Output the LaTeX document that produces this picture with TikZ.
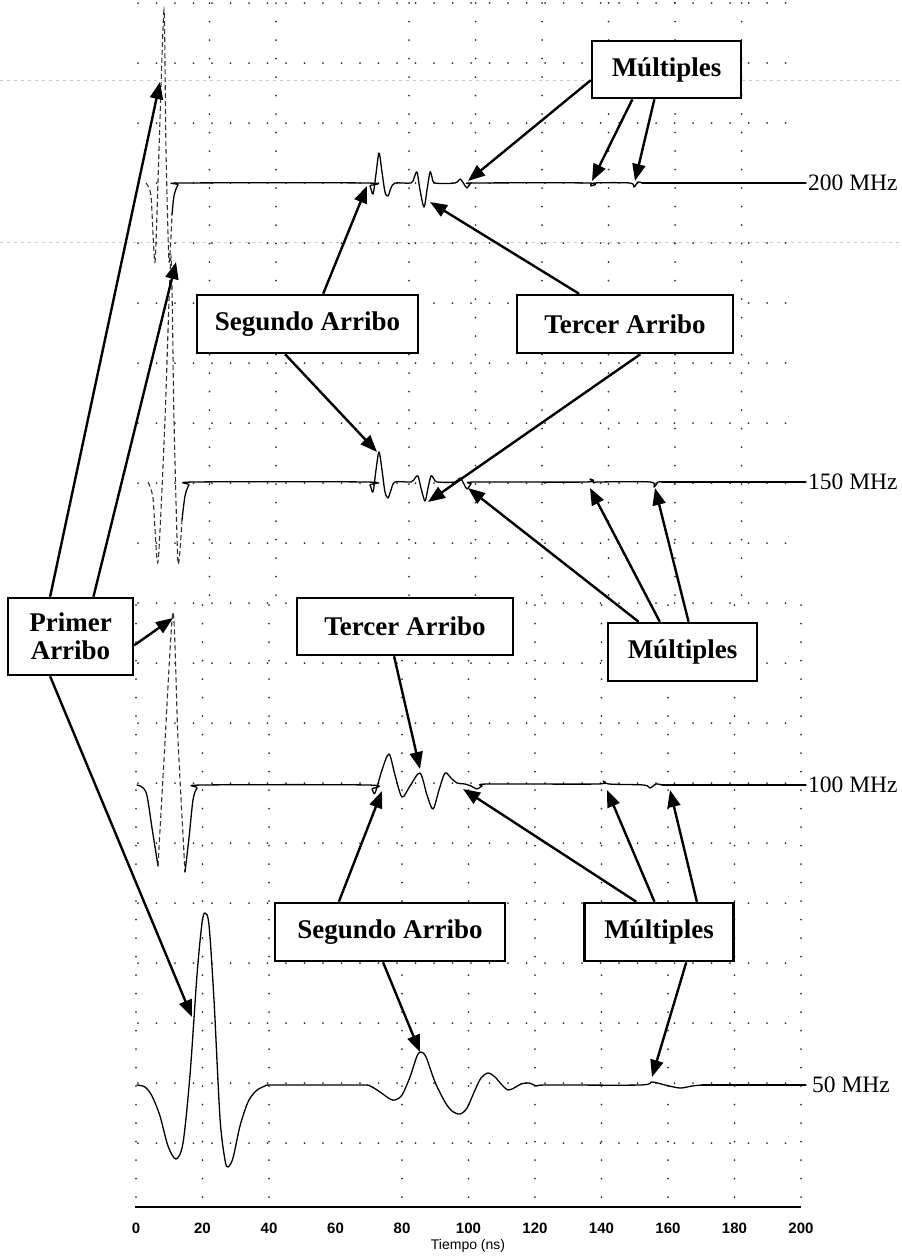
\documentclass[tikz,border=0pt]{standalone}
\usepackage{fontspec}
\setmainfont{Liberation Serif}
\setsansfont{Liberation Sans}
\usetikzlibrary{arrows.meta,calc}
\begin{document}
\begin{tikzpicture}[x=1pt,y=-1pt,
  box/.style={draw=black, line width=2.5pt, fill=white, inner sep=0pt,
    font=\fontsize{27}{30}\selectfont\bfseries, align=center},
  callout/.style={line width=2.4pt, -{Triangle[length=17pt,width=13pt]}},
  trace/.style={line width=1.3pt, line join=round, line cap=round},
  spike/.style={line width=1.1pt, black!80, dash pattern=on 5pt off 3pt},
  griddot/.style={line width=2pt, line cap=round, dash pattern=on 0pt off 18.5pt, black!80},
  noise/.style={line width=1pt, gray!40, dash pattern=on 3pt off 4pt},
  freq/.style={anchor=west, inner sep=1pt, font=\fontsize{23.5}{26}\selectfont},
  ticklab/.style={font=\sffamily\bfseries\fontsize{15}{17}\selectfont, inner sep=0pt},
  axlab/.style={font=\sffamily\fontsize{14}{16}\selectfont, inner sep=0pt}
]
\useasboundingbox (0,0) rectangle (902,1259);
\fill[white] (0,0) rectangle (902,1259);

% scan noise bands
\draw[noise] (0,80) -- (902,80);
\draw[noise] (0,242) -- (902,242);

% dotted grid: rows
\foreach \j in {0,...,19} {
  \draw[griddot] (138,{3+60*\j}) -- (802,{3+60*\j});
}
% dotted grid: columns, upper panels
\foreach \k in {1,2,4,5,6,7,8,9} {
  \draw[griddot] ({143+66.5*\k},3) -- ({143+66.5*\k},600);
}
% dotted grid: columns, lower panels
\foreach \k in {0,1,2,4,5,6,7,8,9,10} {
  \draw[griddot] ({136+66.5*\k},605) -- ({136+66.5*\k},1200);
}

% ---------------- 200 MHz ----------------
\draw[spike] plot[smooth, tension=0.4] coordinates {(146,183) (151,196) (155,262) (159,150) (164,10) (166,150) (169,262) (172,215)};
\draw[trace] plot[smooth, tension=0.5] coordinates {(172,215) (174,196) (178,185) (184,183) (366,183) (370,186) (373,194) (376,174) (379,153) (382,172) (385,192) (388,196) (391,188) (395,183) (411,183) (414,178) (417,172) (420,190) (424,207) (427,190) (430,172) (432,177) (435,183) (455,183) (460,179) (464,184) (467,188) (470,184) (474,183) (588,183) (591,186) (594,183) (630,183) (634,187) (638,182) (642,183)};
\draw[trace] (642,183) -- (806,183);
\node[freq] (f200) at (807,183) {200 MHz};

% ---------------- 150 MHz ----------------
\draw[spike] plot[smooth, tension=0.4] coordinates {(148,482) (153,498) (158,562) (165,420) (171,257) (174,420) (178,563) (182,520)};
\draw[trace] plot[smooth, tension=0.5] coordinates {(182,520) (185,496) (189,485) (195,482) (366,482) (370,485) (373,492) (376,470) (379,452) (382,470) (385,492) (388,498) (391,490) (395,482) (411,482) (415,478) (418,476) (421,488) (425,501) (428,488) (431,476) (434,479) (437,482) (455,482) (460,478) (464,484) (467,489) (471,484) (475,482) (586,482) (590,479) (594,483) (598,482) (650,482) (654,487) (658,482) (662,482)};
\draw[trace] (662,482) -- (806,482);
\node[freq] (f150) at (807,482) {150 MHz};

% ---------------- 100 MHz ----------------
\draw[trace] plot[smooth, tension=0.5] coordinates {(137,785) (146,792) (152,828) (158,866)};
\draw[spike] plot[smooth, tension=0.4] coordinates {(158,866) (164,760) (173,612) (178,740) (185,872)};
\draw[trace] plot[smooth, tension=0.5] coordinates {(185,872) (189,838) (193,800) (197,788) (203,785) (368,785) (372,789) (375,793) (382,770) (389,754) (395,775) (402,797) (410,786) (420,773) (427,795) (433,809) (439,790) (445,773) (451,778) (457,783) (465,784) (471,786) (477,789) (482,786) (488,784) (597,784) (603,781) (609,784) (644,785) (650,788) (656,784) (662,785)};
\draw[trace] (662,785) -- (806,785);
\node[freq] (f100) at (807,785) {100 MHz};

% ---------------- 50 MHz ----------------
\draw[trace] plot[smooth, tension=0.5] coordinates {(137,1085) (145,1087) (152,1096) (160,1116) (168,1146) (176,1159) (183,1143) (190,1075) (197,975) (202,923) (205,913) (209,925) (214,1000) (220,1118) (225,1160) (228,1167) (233,1158) (240,1126) (248,1102) (256,1091) (265,1086) (274,1085) (360,1085) (370,1086) (380,1092) (390,1099) (395,1100) (402,1095) (410,1077) (417,1056) (421,1052) (426,1057) (435,1082) (445,1102) (452,1111) (460,1114) (467,1108) (475,1090) (481,1078) (488,1073) (495,1077) (502,1085) (508,1090) (514,1088) (521,1084) (529,1083) (537,1086) (546,1085) (640,1085) (652,1082) (665,1085) (680,1088) (692,1086) (702,1085)};
\draw[trace] (702,1085) -- (806,1085);
\node[freq] (f50) at (811,1085) {50 MHz};

% ---------------- time axis ----------------
\coordinate (ax0) at (135,1207);
\coordinate (ax1) at (801,1207);
\draw[line width=2.8pt] (ax0) -- (ax1);
\foreach \t [count=\i from 0] in {0,20,40,60,80,100,120,140,160,180,200} {
  \node[ticklab] (tk\i) at ({136+66.5*\i},1228) {\t};
}
\node[axlab] (axlabel) at (468,1246) {Tiempo (ns)};

% ---------------- callout boxes ----------------
\node[box, minimum width=149pt, minimum height=57pt] (mult1) at (666.5,69.5) {Múltiples};
\node[box, minimum width=221pt, minimum height=58pt] (seg1) at (307.5,324) {Segundo Arribo};
\node[box, minimum width=216pt, minimum height=58pt] (ter1) at (625,324) {Tercer Arribo};
\node[box, minimum width=125pt, minimum height=77pt] (primer) at (70.5,636.5) {Primer\\[-2pt]Arribo};
\node[box, minimum width=216pt, minimum height=57pt] (ter2) at (405,626.5) {Tercer Arribo};
\node[box, minimum width=149pt, minimum height=58pt] (mult2) at (682.5,652) {Múltiples};
\node[box, minimum width=230pt, minimum height=58pt] (seg2) at (390,932) {Segundo Arribo};
\node[box, minimum width=149pt, minimum height=58pt] (mult3) at (659,932) {Múltiples};

% ---------------- arrow targets ----------------
\coordinate (pA200) at (160,82);
\coordinate (pA150) at (176,262);
\coordinate (pA100) at (173,618);
\coordinate (pA50) at (192,1017);
\coordinate (s200) at (367,186);
\coordinate (s150) at (377,452);
\coordinate (t200) at (430,202);
\coordinate (t150) at (428,502);
\coordinate (m200a) at (468,181);
\coordinate (m200b) at (592,181);
\coordinate (m200c) at (635,181);
\coordinate (m150a) at (468,488);
\coordinate (m150b) at (590,488);
\coordinate (m150c) at (655,488);
\coordinate (m100a) at (463,789);
\coordinate (m100b) at (607,790);
\coordinate (m100c) at (670,790);
\coordinate (m50) at (652,1077);
\coordinate (s100) at (382,791);
\coordinate (s50) at (420,1052);
\coordinate (t100) at (420,769);

% ---------------- arrows ----------------
\draw[callout] ($(primer.north west)!0.34!(primer.north east)$) -- (pA200);
\draw[callout] ($(primer.north west)!0.68!(primer.north east)$) -- (pA150);
\draw[callout] ($(primer.north east)!0.61!(primer.south east)$) -- (pA100);
\draw[callout] ($(primer.south west)!0.34!(primer.south east)$) -- (pA50);

\draw[callout] ($(seg1.north west)!0.57!(seg1.north east)$) -- (s200);
\draw[callout] ($(seg1.south west)!0.40!(seg1.south east)$) -- (s150);
\draw[callout] ($(ter1.north west)!0.29!(ter1.north east)$) -- (t200);
\draw[callout] ($(ter1.south west)!0.57!(ter1.south east)$) -- (t150);

\draw[callout] ($(mult1.north west)!0.68!(mult1.south west)$) -- (m200a);
\draw[callout] ($(mult1.south west)!0.275!(mult1.south east)$) -- (m200b);
\draw[callout] ($(mult1.south west)!0.42!(mult1.south east)$) -- (m200c);

\draw[callout] ($(mult2.north west)!0.21!(mult2.north east)$) -- (m150a);
\draw[callout] ($(mult2.north west)!0.35!(mult2.north east)$) -- (m150b);
\draw[callout] ($(mult2.north west)!0.54!(mult2.north east)$) -- (m150c);

\draw[callout] ($(ter2.south west)!0.45!(ter2.south east)$) -- (t100);

\draw[callout] ($(seg2.north west)!0.28!(seg2.north east)$) -- (s100);
\draw[callout] ($(seg2.south west)!0.47!(seg2.south east)$) -- (s50);

\draw[callout] ($(mult3.north west)!0.35!(mult3.north east)$) -- (m100a);
\draw[callout] ($(mult3.north west)!0.47!(mult3.north east)$) -- (m100b);
\draw[callout] ($(mult3.north west)!0.75!(mult3.north east)$) -- (m100c);
\draw[callout] ($(mult3.south west)!0.68!(mult3.south east)$) -- (m50);

\end{tikzpicture}
\end{document}
